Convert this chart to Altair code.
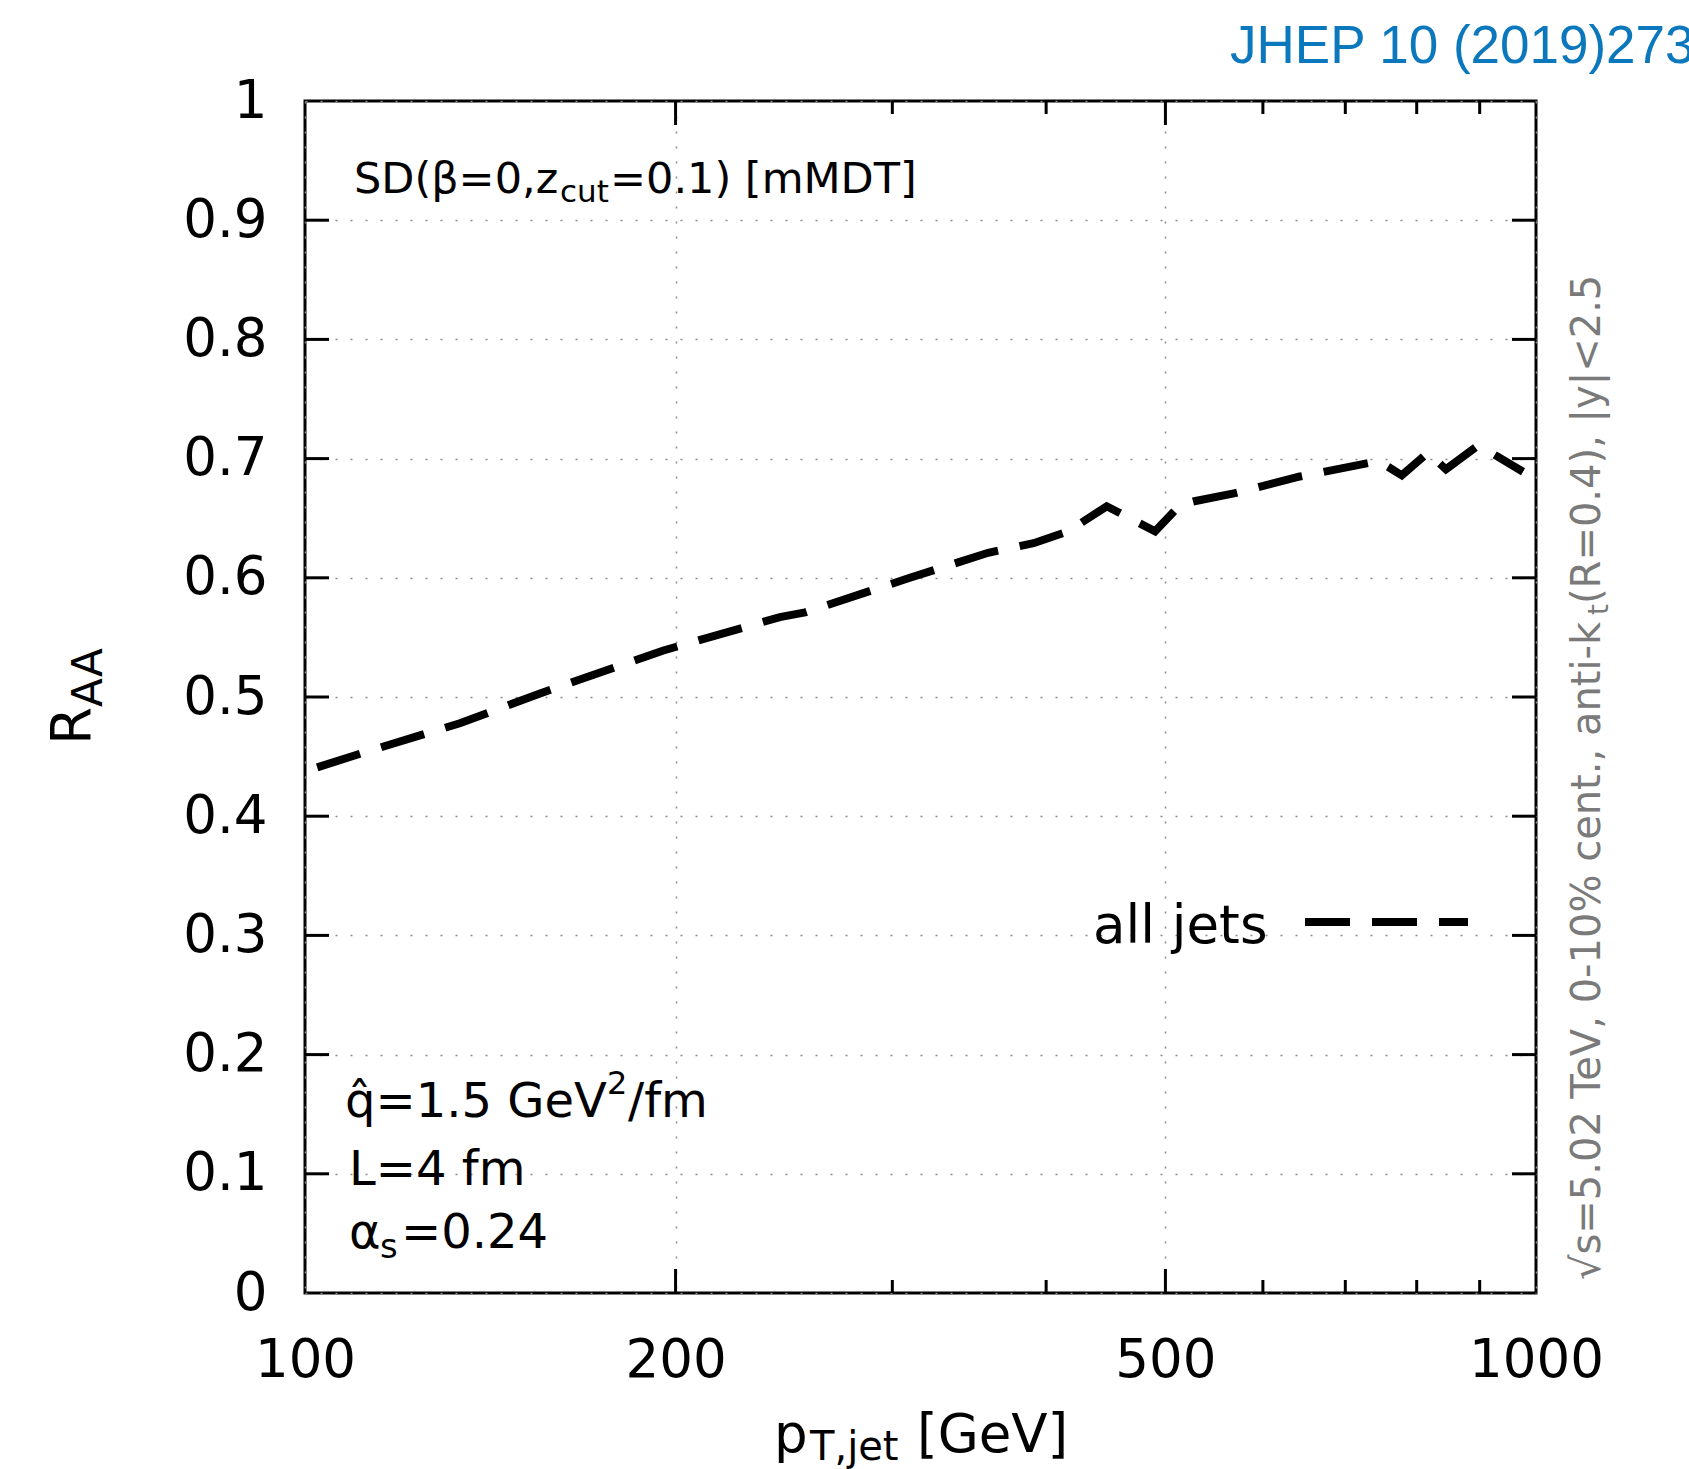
import altair as alt
import pandas as pd

# ---- data ----
pt = [102.3, 112.9, 133.6, 155.2, 195.5, 243.1, 254.8, 310.0, 358.9, 390.7,
      416.8, 448.0, 490.4, 513.8, 526.6, 569.5, 643.0, 728.6, 745.0, 778.0,
      817.0, 845.0, 896.0, 909.0, 976.0]
raa = [0.441, 0.455, 0.478, 0.503, 0.539, 0.567, 0.571, 0.600, 0.621, 0.629,
       0.639, 0.660, 0.639, 0.661, 0.664, 0.671, 0.685, 0.696, 0.698, 0.686,
       0.705, 0.691, 0.7105, 0.708, 0.689]

x_labels = [100, 200, 500, 1000]
x_major = [200, 500]
x_minor = [300, 400, 600, 700, 800, 900]
y_labels = [0, 0.1, 0.2, 0.3, 0.4, 0.5, 0.6, 0.7, 0.8, 0.9, 1]
y_inner = [0.1, 0.2, 0.3, 0.4, 0.5, 0.6, 0.7, 0.8, 0.9]

W, H = 1231, 1192
FONT = "DejaVu Sans"

xscale = alt.Scale(type="log", domain=[100, 1000])
yscale = alt.Scale(domain=[0, 1])

X_AX = alt.Axis(
    values=x_labels, format="d", title=None, domain=False, ticks=False,
    tickSize=0, labelFont=FONT, labelFontSize=53, labelColor="black",
    labelPadding=41, labelFlush=False, labelOverlap=False,
    grid=True, gridDash=[2, 13], gridColor="#8a8a8a", gridWidth=1.5)
Y_AX = alt.Axis(
    values=y_labels, format=".1~f", title=None, domain=False, ticks=False,
    tickSize=0, labelFont=FONT, labelFontSize=53, labelColor="black",
    labelPadding=38, labelFlush=False, labelOverlap=False,
    grid=True, gridDash=[2, 13], gridColor="#8a8a8a", gridWidth=1.5)

df = pd.DataFrame({"pt": pt, "raa": raa})

line = alt.Chart(df).mark_line(
    color="black", strokeWidth=8, strokeDash=[45, 22], strokeCap="butt"
).encode(
    x=alt.X("pt:Q", scale=xscale, axis=X_AX),
    y=alt.Y("raa:Q", scale=yscale, axis=Y_AX),
)


def xticks(vals, length):
    d = pd.DataFrame({"pt": vals})
    bottom = alt.Chart(d).mark_rule(color="black", strokeWidth=3).encode(
        x=alt.X("pt:Q", scale=xscale, axis=X_AX),
        y=alt.value(H), y2=alt.value(H - length))
    top = alt.Chart(d).mark_rule(color="black", strokeWidth=3).encode(
        x=alt.X("pt:Q", scale=xscale, axis=X_AX),
        y=alt.value(0), y2=alt.value(length))
    return [bottom, top]


def yticks(vals, length):
    d = pd.DataFrame({"raa": vals})
    left = alt.Chart(d).mark_rule(color="black", strokeWidth=3).encode(
        y=alt.Y("raa:Q", scale=yscale, axis=Y_AX),
        x=alt.value(0), x2=alt.value(length))
    right = alt.Chart(d).mark_rule(color="black", strokeWidth=3).encode(
        y=alt.Y("raa:Q", scale=yscale, axis=Y_AX),
        x=alt.value(W), x2=alt.value(W - length))
    return [left, right]


def label(text, x, y, size, angle=0, color="black", font=FONT, align="left"):
    return alt.Chart(alt.Data(values=[{"t": text}])).mark_text(
        align=align, baseline="alphabetic", fontSize=size, font=font,
        color=color, angle=angle
    ).encode(x=alt.value(x), y=alt.value(y), text="t:N")


GRAY = "#7a7a7a"
texts = [
    # header annotation
    label("SD(β=0,z", 49, 92, 43),
    label("cut", 255, 101, 31),
    label("=0.1) [mMDT]", 305, 92, 43),
    # parameters
    label("q\u0302=1.5 GeV", 40, 1016, 48),
    label("2", 302, 993, 32),
    label("/fm", 323, 1016, 48),
    label("L=4 fm", 44, 1084, 48),
    label("α", 44, 1147, 48),
    label("s", 75, 1157, 34),
    label("=0.24", 96, 1147, 48),
    # legend
    label("all jets", 788, 842, 53),
    # axis titles
    label("p", 469, 1351, 53),
    label("T,jet", 505, 1359, 40),
    label("[GeV]", 612, 1351, 53),
    label("R", -215, 644, 55, angle=270),
    label("AA", -203, 606, 42, angle=270),
    # right side rotated text
    label("√s=5.02 TeV, 0-10% cent., anti-k", 1295, 1179, 40, angle=270, color=GRAY),
    label("t", 1303, 514, 28, angle=270, color=GRAY),
    label("(R=0.4), |y|<2.5", 1295, 503, 40, angle=270, color=GRAY),
    # journal tag
    label("JHEP 10 (2019)273", 925, -38, 53, color="#0b78bd", font="Liberation Sans"),
]

legend_line = alt.Chart(alt.Data(values=[{"a": 1}])).mark_rule(
    color="black", strokeWidth=8, strokeDash=[45, 22], strokeCap="butt"
).encode(x=alt.value(1000), x2=alt.value(1163), y=alt.value(821))

layers = [line] + xticks(x_major, 24) + xticks(x_minor, 13) + yticks(y_inner, 24) \
    + [legend_line] + texts

chart = alt.layer(*layers).properties(
    width=W, height=H,
    autosize=alt.AutoSizeParams(type="none"),
    padding={"left": 305, "top": 101, "right": 153, "bottom": 176},
).configure_view(stroke="black", strokeWidth=3)

chart.save("out.html", embed_options={"renderer": "svg", "actions": False})
